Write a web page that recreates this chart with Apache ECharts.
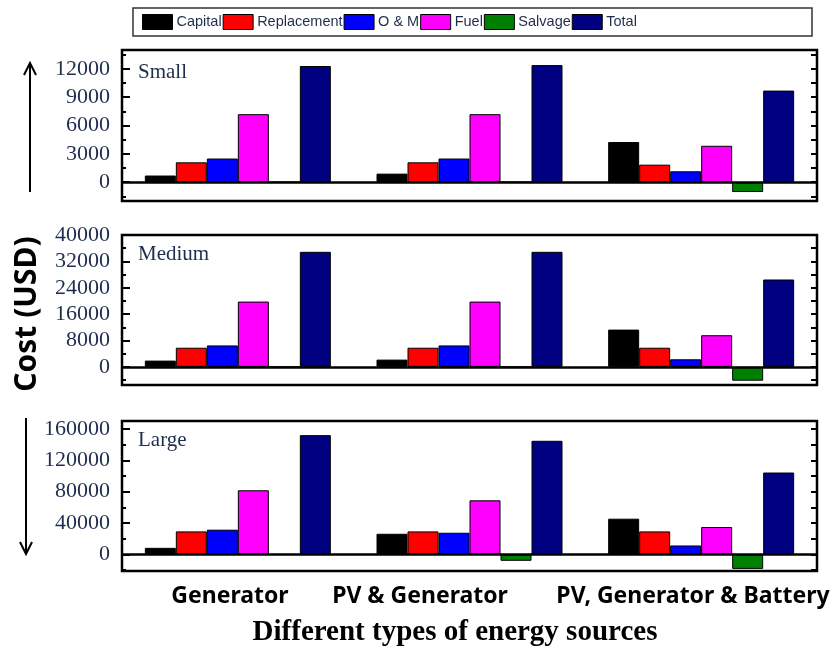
<!DOCTYPE html>
<html>
<head>
<meta charset="utf-8">
<script src="https://cdn.jsdelivr.net/npm/echarts@6/dist/echarts.min.js"></script>
<style>
  html, body { margin: 0; padding: 0; background: #fff; }
  #chart { width: 838px; height: 653px; }
</style>
</head>
<body>
<div id="chart"></div>
<script>
// categories and cost components
const categories = ['Generator', 'PV & Generator', 'PV, Generator & Battery']
const costTypes = ['Capital', 'Replacement', 'O & M', 'Fuel', 'Salvage', 'Total']
const panelNames = ['Small', 'Medium', 'Large']

// values per panel, rows in costTypes order, columns in categories order
const smallValues = [
  [700, 900, 4250],
  [2100, 2100, 1850],
  [2500, 2500, 1150],
  [7200, 7200, 3850],
  [0, 0, -1050],
  [12300, 12400, 9700]
]
const mediumValues = [
  [1900, 2200, 11300],
  [5800, 5800, 5800],
  [6500, 6500, 2300],
  [19800, 19800, 9600],
  [0, 0, -4200],
  [34900, 34900, 26500]
]
const largeValues = [
  [8500, 26400, 45600],
  [29400, 29400, 29400],
  [31600, 27700, 11500],
  [81800, 69000, 35000],
  [0, -8000, -18300],
  [152000, 144800, 104400]
]

// y tick labels
const smallTicks = [0, 3000, 6000, 9000, 12000]
const mediumTicks = [0, 8000, 16000, 24000, 32000, 40000]
const largeTicks = [0, 40000, 80000, 120000, 160000]

const colors = ['#000000', '#ff0000', '#0000ff', '#ff00ff', '#008000', '#000080']
const labelColor = '#1f2d4d'

const panels = [
  { values: smallValues, ticks: smallTicks, min: -2000, max: 14000, top: 50, height: 151, labelY: 72 },
  { values: mediumValues, ticks: mediumTicks, min: -5500, max: 40000, top: 235, height: 150, labelY: 254 },
  { values: largeValues, ticks: largeTicks, min: -21000, max: 170000, top: 421, height: 150, labelY: 440 }
]

function halfSteps (ticks, min, max) {
  const step = (ticks[1] - ticks[0]) / 2
  const out = []
  let v = ticks[0] - step * Math.floor((ticks[0] - min) / step)
  for (; v < max; v += step) out.push(v)
  return out
}

const grid = []
const xAxis = []
const yAxis = []
const series = []

panels.forEach((p, i) => {
  grid.push({
    left: 122, right: 21, top: p.top, height: p.height,
    show: true, borderColor: '#000', borderWidth: 2.5, backgroundColor: 'transparent'
  })
  const minors = halfSteps(p.ticks, p.min, p.max).filter(v => p.ticks.indexOf(v) < 0)
  // main category axis, tick at group centre
  xAxis.push({
    type: 'category', gridIndex: i, data: categories, position: 'bottom',
    axisLine: { show: false, onZero: false },
    axisTick: { alignWithLabel: true, inside: true, length: 8, lineStyle: { color: '#000', width: 2 } },
    axisLabel: { show: false }
  })
  // boundary ticks
  xAxis.push({
    type: 'category', gridIndex: i, data: categories, position: 'bottom',
    axisLine: { show: false, onZero: false },
    axisTick: { inside: true, length: 4, lineStyle: { color: '#000', width: 2 } },
    axisLabel: { show: false }
  })
  yAxis.push({
    type: 'value', gridIndex: i, min: p.min, max: p.max, position: 'left',
    axisLine: { show: false },
    splitLine: { show: false },
    axisTick: { show: true, inside: true, length: 8, customValues: p.ticks, lineStyle: { color: '#000', width: 2 } },
    axisLabel: {
      customValues: p.ticks, margin: 12, color: labelColor,
      fontFamily: 'Liberation Serif', fontSize: 22,
      formatter: v => String(v)
    }
  })
  yAxis.push({
    type: 'value', gridIndex: i, min: p.min, max: p.max, position: 'left',
    axisLine: { show: false }, splitLine: { show: false },
    axisTick: { show: true, inside: true, length: 4, customValues: minors, lineStyle: { color: '#000', width: 2 } },
    axisLabel: { show: false }
  })
  yAxis.push({
    type: 'value', gridIndex: i, min: p.min, max: p.max, position: 'right',
    axisLine: { show: false }, splitLine: { show: false },
    axisTick: { show: true, inside: true, length: 6, customValues: halfSteps(p.ticks, p.min, p.max), lineStyle: { color: '#000', width: 2 } },
    axisLabel: { show: false }
  })

  costTypes.forEach((name, k) => {
    const s = {
      name: name,
      type: 'bar',
      xAxisIndex: 2 * i,
      yAxisIndex: 3 * i,
      data: p.values[k],
      barWidth: 31,
      barGap: '0%',
      itemStyle: { color: colors[k], borderColor: '#000', borderWidth: 1 },
      emphasis: { disabled: true }
    }
    if (k === costTypes.length - 1) {
      s.markLine = {
        silent: true, symbol: ['none', 'none'],
        label: { show: false },
        lineStyle: { color: '#000', width: 2.5, type: 'solid' },
        data: [{ yAxis: 0 }]
      }
    }
    series.push(s)
  })
})

const graphic = [
  {
    type: 'rect', shape: { x: 133, y: 8, width: 679, height: 28 },
    style: { fill: 'none', stroke: '#333', lineWidth: 1.5 }
  },
  // arrows
  { type: 'line', shape: { x1: 30, y1: 192, x2: 30, y2: 64 }, style: { stroke: '#000', lineWidth: 2 } },
  { type: 'polyline', shape: { points: [[24, 75], [30, 63], [36, 75]] }, style: { stroke: '#000', lineWidth: 2, fill: 'none' } },
  { type: 'line', shape: { x1: 26, y1: 418, x2: 26, y2: 553 }, style: { stroke: '#000', lineWidth: 2 } },
  { type: 'polyline', shape: { points: [[20, 542], [26, 554], [32, 542]] }, style: { stroke: '#000', lineWidth: 2, fill: 'none' } },
  {
    type: 'text', x: 27, y: 314, rotation: Math.PI / 2,
    style: { text: 'Cost (USD)', font: 'bold 30px "Noto Sans"', fill: '#000', align: 'center', verticalAlign: 'middle' }
  },
  {
    type: 'text', x: 455, y: 633,
    style: { text: 'Different types of energy sources', font: 'bold 29px "Liberation Serif"', fill: '#000', align: 'center', verticalAlign: 'middle' }
  }
]

const catCenters = [230, 420, 693]
categories.forEach((c, j) => {
  graphic.push({
    type: 'text', x: catCenters[j], y: 596,
    style: { text: c, font: 'bold 23px "Noto Sans"', fill: '#000', align: 'center', verticalAlign: 'middle' }
  })
})
panels.forEach((p, i) => {
  graphic.push({
    type: 'text', x: 138, y: p.labelY,
    style: { text: panelNames[i], font: '21px "Liberation Serif"', fill: labelColor, align: 'left', verticalAlign: 'middle' }
  })
})

const chart = echarts.init(document.getElementById('chart'))
chart.setOption({
  animation: false,
  backgroundColor: '#fff',
  legend: {
    data: costTypes,
    left: 142, top: 14, padding: 0,
    itemWidth: 30, itemHeight: 15, itemGap: 1,
    icon: 'rect',
    itemStyle: { borderColor: '#000', borderWidth: 1 },
    textStyle: { fontFamily: 'Liberation Sans', fontSize: 14.5, color: labelColor, padding: [0, 0, 0, -1] },
    selectedMode: false
  },
  grid: grid,
  xAxis: xAxis,
  yAxis: yAxis,
  series: series,
  graphic: graphic
})
</script>
</body>
</html>
